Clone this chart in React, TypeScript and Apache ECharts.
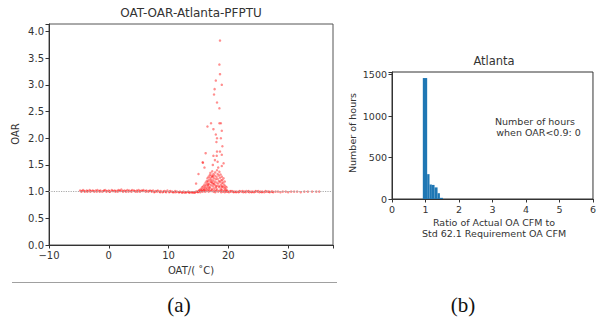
import React, { useEffect, useRef } from "react";
import * as echarts from "echarts";

// ---- (a) scatter: OAT (°C) vs OAR ----
const bandLeftA: number[][] = [
  [-4.8,1.02],[-4.5,1.01],[-4.3,1.03],[-4.0,1.00],[-3.7,1.02],[-3.5,1.01],[-3.2,1.03],[-3.0,1.01],[-2.7,1.02],[-2.4,1.00],
  [-2.2,1.02],[-1.9,1.03],[-1.6,1.01],[-1.4,1.02],[-1.1,1.00],[-0.8,1.02],[-0.6,1.03],[-0.3,1.01],[0.0,1.02],[0.2,1.00],
  [0.5,1.03],[0.8,1.01],[1.0,1.02],[1.3,1.01],[1.6,1.03],[1.8,1.02],[2.1,1.04],[2.3,1.01],[2.6,1.02],[2.9,1.00],
  [3.1,1.03],[3.4,1.02],[3.7,1.01],[3.9,1.03],[4.2,1.02],[4.5,1.00],[4.7,1.02],[5.0,1.03],[5.3,1.01],[5.5,1.02],
  [5.8,1.03],[6.1,1.01],[6.3,1.02],[6.6,1.00],[6.9,1.02],[7.1,1.01],[7.4,1.02],[7.7,1.00],[7.9,1.01],[8.2,1.02],
  [8.5,1.00],[8.7,1.01],[9.0,0.99],[9.3,1.01],[9.5,1.00],[9.8,1.02],[10.1,0.99],[10.3,1.01],[10.6,1.00],[10.9,0.99],
  [11.1,1.01],[11.4,1.00],[11.7,0.99],[11.9,1.00],[12.2,0.99],[12.5,1.00],[12.7,0.98],[13.0,0.99],[13.3,1.00],[13.5,0.98],
  [13.8,0.99],[14.1,0.98],[14.3,0.99],[14.6,1.00],[14.9,0.99]
];
const bandLeftB: number[][] = [
  [-4.6,1.00],[-4.1,1.01],[-3.6,1.00],[-3.1,1.00],[-2.6,1.01],[-2.0,1.00],[-1.5,1.00],[-0.9,1.01],[-0.4,1.00],[0.1,1.00],
  [0.6,1.01],[1.1,1.00],[1.5,1.00],[1.9,1.01],[2.4,1.00],[2.8,1.01],[3.3,1.00],[3.8,1.00],[4.3,1.01],[4.8,1.00],
  [5.2,1.00],[5.7,1.01],[6.2,1.00],[6.7,1.01],[7.2,1.00],[7.6,0.99],[8.1,1.00],[8.6,0.99],[9.1,1.00],[9.6,0.99],
  [10.2,1.00],[10.7,0.99],[11.2,0.99],[11.8,0.99],[12.3,0.98],[12.9,0.99],[13.4,0.99],[13.9,0.99],[14.4,0.98],[14.8,1.00]
];
const bandRight: number[][] = [
  [19.9,1.00],[20.1,0.99],[20.4,1.00],[20.6,1.01],[20.9,0.99],[21.1,1.00],[21.4,1.00],[21.7,0.99],[21.9,1.01],[22.2,1.00],
  [22.5,0.99],[22.7,1.00],[23.0,1.01],[23.3,1.00],[23.5,0.99],[23.8,1.00],[24.1,1.00],[24.3,0.99],[24.6,1.01],[24.9,1.00],
  [25.2,0.99],[25.4,1.00],[25.7,1.00],[26.0,0.99],[26.3,1.00],[26.6,1.00],[26.9,0.99],[27.2,1.00],[27.5,0.99],[27.9,1.00],
  [28.3,1.00],[28.7,0.99],[29.1,1.00],[29.6,1.00],[30.0,0.99],[30.5,1.00],[31.0,1.00],[31.5,1.00],[32.1,0.99],[32.7,1.00],
  [33.3,1.00],[34.0,1.00],[34.7,1.00],[35.2,1.00],
  [20.3,1.01],[20.8,1.00],[21.3,0.99],[21.8,1.00],[22.4,1.01],[22.9,0.99],[23.4,1.01],[23.9,0.99],[24.5,1.00],[25.0,1.01],
  [25.6,0.99],[26.2,1.01],[26.8,1.00],[27.4,1.00]
];
const clusterBase: number[][] = [
  [15.0,1.00],[15.1,1.02],[15.3,0.99],[15.5,1.01],[15.7,1.00],[15.9,1.02],[16.1,1.00],[16.3,1.01],[16.5,1.03],[16.7,1.00],
  [16.9,1.02],[17.1,1.01],[17.3,1.03],[17.5,1.00],[17.7,1.02],[17.9,1.01],[18.1,1.03],[18.3,1.00],[18.5,1.02],[18.7,1.01],
  [18.9,1.03],[19.1,1.00],[19.3,1.02],[19.5,1.01],[19.7,1.00],[19.4,0.99],[18.8,0.99],[17.8,0.99]
];
const clusterBody: number[][] = [
  [15.2,1.03],[15.4,1.05],[15.5,1.02],[15.6,1.08],[15.7,1.04],[15.8,1.10],[15.9,1.06],[16.0,1.13],[16.0,1.03],[16.1,1.09],
  [16.2,1.17],[16.2,1.05],[16.3,1.12],[16.4,1.20],[16.4,1.07],[16.5,1.15],[16.5,1.25],[16.6,1.10],[16.6,1.19],[16.7,1.28],
  [16.7,1.04],[16.8,1.14],[16.8,1.22],[16.9,1.31],[16.9,1.08],[17.0,1.18],[17.0,1.26],[17.0,1.35],[17.1,1.12],[17.1,1.22],
  [17.2,1.30],[17.2,1.05],[17.3,1.16],[17.3,1.27],[17.3,1.38],[17.4,1.10],[17.4,1.21],[17.5,1.33],[17.5,1.14],[17.6,1.25],
  [17.6,1.06],[17.7,1.19],[17.7,1.30],[17.8,1.12],[17.8,1.36],[17.9,1.23],[17.9,1.09],[18.0,1.28],[18.0,1.17],[18.1,1.40],
  [18.1,1.11],[18.2,1.24],[18.2,1.33],[18.3,1.15],[18.3,1.45],[18.4,1.20],[18.4,1.30],[18.5,1.08],[18.5,1.37],[18.6,1.18],
  [18.6,1.26],[18.7,1.12],[18.7,1.32],[18.8,1.21],[18.8,1.05],[18.9,1.15],[18.9,1.28],[19.0,1.10],[19.0,1.22],[19.1,1.17],
  [19.2,1.08],[19.2,1.25],[19.3,1.13],[19.4,1.06],[19.4,1.19],[19.5,1.10],[19.6,1.04],[19.7,1.08],[19.8,1.02],
  [16.8,1.07],[17.2,1.18],[17.6,1.15],[18.0,1.06],[18.4,1.10],[17.4,1.29],[16.6,1.13],[18.9,1.09]
];
const outliers: number[][] = [
  [18.6,3.83],[18.5,3.38],[18.6,3.20],[17.9,3.08],[18.9,3.00],[17.7,2.92],[17.6,2.82],[18.1,2.67],[18.5,2.56],[17.1,2.28],
  [18.5,2.28],[18.75,2.28],[16.5,2.22],[17.5,2.17],[18.9,2.14],[17.9,2.07],[18.1,2.00],[18.75,2.00],[18.0,1.93],[19.0,1.85],
  [16.2,1.72],[18.1,1.75],[18.6,1.75],[17.5,1.67],[18.05,1.67],[18.9,1.69],[15.75,1.54],[17.75,1.59],[18.2,1.56],[19.2,1.53],
  [15.0,1.33],[14.6,1.15],[17.4,1.50],[18.9,1.48],[16.0,1.45],[15.7,1.55]
];

// ---- (b) histogram of OAR ----
const histStart = [0.92, 1.05, 1.12, 1.19, 1.27, 1.36, 1.43];
const histEnd = [1.05, 1.12, 1.19, 1.27, 1.36, 1.43, 1.52];
const histCount = [1460, 300, 175, 170, 140, 70, 14];

const yTicksA = ["0.0", "0.5", "1.0", "1.5", "2.0", "2.5", "3.0", "3.5", "4.0"];

const FONT = "DejaVu Sans";
const TXT = "#333";

export default function App() {
  const ref = useRef<HTMLDivElement>(null);
  useEffect(() => {
    if (!ref.current) return;
    const chart = echarts.init(ref.current, null, { renderer: "svg" });
    const scatterData = [...bandLeftA, ...bandLeftB, ...bandRight, ...clusterBase, ...clusterBody, ...outliers];
    const histData = histStart.map((s, i) => [s, histEnd[i], histCount[i]]);
    const axisCommon = {
      axisLine: { show: true, onZero: false, lineStyle: { color: "#333", width: 1 } },
      axisTick: { show: true, inside: false, length: 3.5, lineStyle: { color: "#333" } },
      splitLine: { show: false },
    };
    chart.setOption({
      animation: false,
      backgroundColor: "#fff",
      grid: [
        { left: 49, top: 24, width: 284, height: 221, show: true, borderColor: "#555", borderWidth: 1, backgroundColor: "transparent" },
        { left: 392, top: 72, width: 205, height: 127, show: true, borderColor: "#333", borderWidth: 1, backgroundColor: "transparent" },
      ],
      xAxis: [
        {
          ...axisCommon, gridIndex: 0, type: "value", min: -10, max: 37.5, interval: 10,
          axisLabel: {
            fontFamily: FONT, fontSize: 10, color: TXT, margin: 5,
            formatter: (v: number) => (Math.abs(v % 10) < 1e-9 ? (v < 0 ? "\u2212" + Math.abs(v) : String(v)) : ""),
          },
        },
        {
          ...axisCommon, gridIndex: 1, type: "value", min: 0, max: 6, interval: 1,
          axisLabel: { fontFamily: FONT, fontSize: 9.5, color: TXT, margin: 5 },
        },
      ],
      yAxis: [
        {
          ...axisCommon, gridIndex: 0, type: "value", min: 0, max: 4.14, interval: 0.5,
          axisLabel: {
            fontFamily: FONT, fontSize: 10, color: TXT, margin: 5,
            formatter: (v: number) => {
              const k = Math.round(v / 0.5);
              return Math.abs(v - k * 0.5) < 1e-6 && k < yTicksA.length ? yTicksA[k] : "";
            },
          },
        },
        {
          ...axisCommon, gridIndex: 1, type: "value", min: 0, max: 1533, interval: 500,
          axisLabel: {
            fontFamily: FONT, fontSize: 9.5, color: TXT, margin: 5,
            formatter: (v: number) => (v % 500 === 0 ? String(v) : ""),
          },
        },
      ],
      series: [
        {
          type: "scatter", xAxisIndex: 0, yAxisIndex: 0, data: scatterData,
          symbolSize: 2.5, itemStyle: { color: "rgba(255,0,0,0.55)" }, silent: true,
          markLine: {
            silent: true, symbol: ["none", "none"], label: { show: false },
            lineStyle: { color: "#aaa", type: "dotted", width: 1.2 },
            data: [{ yAxis: 1 }],
          },
        },
        {
          type: "custom", xAxisIndex: 1, yAxisIndex: 1, data: histData,
          encode: { x: [0, 1], y: 2 },
          renderItem: (_p: any, api: any) => {
            const p0 = api.coord([api.value(0), api.value(2)]);
            const p1 = api.coord([api.value(1), 0]);
            return {
              type: "rect",
              shape: { x: p0[0], y: p0[1], width: p1[0] - p0[0], height: p1[1] - p0[1] },
              style: { fill: "#1f77b4" },
            };
          },
        },
      ],
      graphic: [
        { type: "text", x: 191, y: 13, style: { text: "OAT-OAR-Atlanta-PFPTU", font: `12px ${FONT}`, fill: TXT, align: "center", verticalAlign: "middle" } },
        { type: "text", x: 191, y: 270, style: { text: "OAT/( \u02DAC)", font: `10px ${FONT}`, fill: TXT, align: "center", verticalAlign: "middle" } },
        { type: "text", x: 15, y: 134, rotation: Math.PI / 2, style: { text: "OAR", font: `10px ${FONT}`, fill: TXT, align: "center", verticalAlign: "middle" } },
        { type: "text", x: 494, y: 61, style: { text: "Atlanta", font: `11.5px ${FONT}`, fill: TXT, align: "center", verticalAlign: "middle" } },
        { type: "text", x: 352, y: 133, rotation: Math.PI / 2, style: { text: "Number of hours", font: `9.5px ${FONT}`, fill: TXT, align: "center", verticalAlign: "middle" } },
        { type: "text", x: 494, y: 222, style: { text: "Ratio of Actual OA CFM to", font: `9.5px ${FONT}`, fill: TXT, align: "center", verticalAlign: "middle" } },
        { type: "text", x: 494, y: 233.5, style: { text: "Std 62.1 Requirement OA CFM", font: `9.5px ${FONT}`, fill: TXT, align: "center", verticalAlign: "middle" } },
        { type: "text", x: 535, y: 121, style: { text: "Number of hours", font: `9.5px ${FONT}`, fill: TXT, align: "center", verticalAlign: "middle" } },
        { type: "text", x: 537, y: 132, style: { text: " when OAR<0.9: 0", font: `9.5px ${FONT}`, fill: TXT, align: "center", verticalAlign: "middle" } },
        { type: "line", shape: { x1: 12, y1: 282.5, x2: 337, y2: 282.5 }, style: { stroke: "#a0a0a0", lineWidth: 1 } },
        { type: "text", x: 179, y: 305, style: { text: "(a)", font: `21px "Liberation Serif"`, fill: "#111", align: "center", verticalAlign: "middle" } },
        { type: "text", x: 463, y: 305, style: { text: "(b)", font: `21px "Liberation Serif"`, fill: "#111", align: "center", verticalAlign: "middle" } },
      ],
    });
    return () => chart.dispose();
  }, []);
  return (
    <div
      ref={ref}
      style={{ position: "absolute", left: 0, top: 0, width: 599, height: 322, background: "#fff" }}
    />
  );
}
